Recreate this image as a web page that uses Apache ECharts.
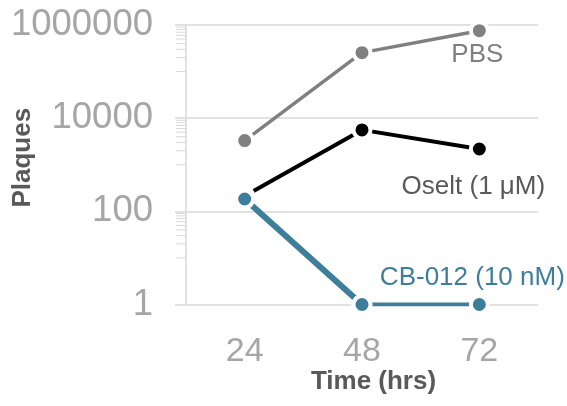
<!DOCTYPE html>
<html><head><meta charset="utf-8">
<script src="https://cdn.jsdelivr.net/npm/echarts@6/dist/echarts.min.js"></script>
<style>html,body{margin:0;padding:0;background:#fff}#c{width:567px;height:406px}</style>
</head><body><div id="c"></div>
<script>
const categories = ['24', '48', '72'];
const pbs = [3300, 255000, 755000];
const oselt = [213, 5600, 2180];
const cb012 = [184, 1, 1];
const seriesNames = ['PBS', 'Oselt (1 \u03bcM)', 'CB-012 (10 nM)'];
const yTickValues = [1, 100, 10000, 1000000];
const yMinorTickValues = [10, 20, 30, 40, 50, 60, 70, 80, 90,
  1000, 2000, 3000, 4000, 5000, 6000, 7000, 8000, 9000,
  100000, 200000, 300000, 400000, 500000, 600000, 700000, 800000, 900000];

const FONT = '"Liberation Sans", Arial, Helvetica, sans-serif';
const colors = { pbs: '#808080', oselt: '#000000', cb: '#3d7e9b' };
const labelColors = { pbs: '#7f7f7f', oselt: '#595959', cb: '#3d7e9b' };
const GRID = '#d9d9d9';

function lastLabel(name, color, offset) {
  return {
    show: true, position: 'inside', offset: offset,
    color: color, fontFamily: FONT, fontSize: 26,
    formatter: p => p.dataIndex === categories.length - 1 ? name : ''
  };
}
function baseLine(name, data, color, width, label) {
  return {
    name: name, type: 'line', data: data,
    symbol: 'circle', symbolSize: 17,
    lineStyle: { color: color, width: width },
    itemStyle: { color: color, borderColor: '#fff', borderWidth: 4 },
    label: label || { show: false },
    emphasis: { disabled: true },
    connectNulls: false, animation: false, z: 3
  };
}

const chart = echarts.init(document.getElementById('c'), null, { renderer: 'canvas' });
chart.setOption({
  animation: false,
  grid: { left: 186, right: 29, top: 25, bottom: 101.5, containLabel: false, outerBoundsMode: 'none' },
  xAxis: {
    type: 'category', data: categories, boundaryGap: true,
    axisLine: { show: false }, axisTick: { show: false },
    axisLabel: { color: '#a6a6a6', fontFamily: FONT, fontSize: 34, margin: 30 },
    name: 'Time (hrs)', nameLocation: 'middle', nameGap: 64, nameMoveOverlap: false,
    nameTextStyle: { color: '#595959', fontFamily: FONT, fontSize: 26, fontWeight: 'bold', padding: [0, 0, 0, 23] }
  },
  yAxis: {
    type: 'log', logBase: 100, min: yTickValues[0], max: yTickValues[yTickValues.length - 1],
    interval: 1, splitNumber: 3,
    axisLine: { show: true, lineStyle: { color: GRID, width: 1.5 } },
    axisTick: { show: true, length: 11, lineStyle: { color: GRID, width: 1.5 } },
    splitLine: { show: true, lineStyle: { color: GRID, width: 1.5 } },
    axisLabel: {
      color: '#a6a6a6', fontFamily: FONT, fontSize: 36.5, margin: 33,
      formatter: v => String(Math.round(v))
    },
    name: 'Plaques', nameLocation: 'middle', nameGap: 150, nameRotate: 90, nameMoveOverlap: false,
    nameTextStyle: { color: '#595959', fontFamily: FONT, fontSize: 26, fontWeight: 'bold', padding: [0, 0, 0, 14] }
  },
  series: [
    {
      type: 'custom', coordinateSystem: 'cartesian2d', silent: true, clip: false, z: 1,
      data: yMinorTickValues.map(v => [0, v]),
      encode: { x: 0, y: 1 },
      renderItem: (params, api) => {
        const y = api.coord([0, api.value(1)])[1];
        const x0 = params.coordSys.x;
        return { type: 'line', shape: { x1: x0 - 10, y1: y, x2: x0, y2: y }, style: { stroke: GRID, lineWidth: 1 } };
      }
    },
    baseLine(seriesNames[0], pbs, colors.pbs, 3.5, lastLabel(seriesNames[0], labelColors.pbs, [-2, 24])),
    baseLine(seriesNames[1], oselt, colors.oselt, 4, lastLabel(seriesNames[1], labelColors.oselt, [-6, 38])),
    baseLine(seriesNames[2], cb012.map((v, i) => i <= 1 ? v : null), colors.cb, 6),
    baseLine(seriesNames[2], cb012.map((v, i) => i >= 1 ? v : null), colors.cb, 4, lastLabel(seriesNames[2], labelColors.cb, [-7, -27]))
  ]
});
</script>
</body></html>
